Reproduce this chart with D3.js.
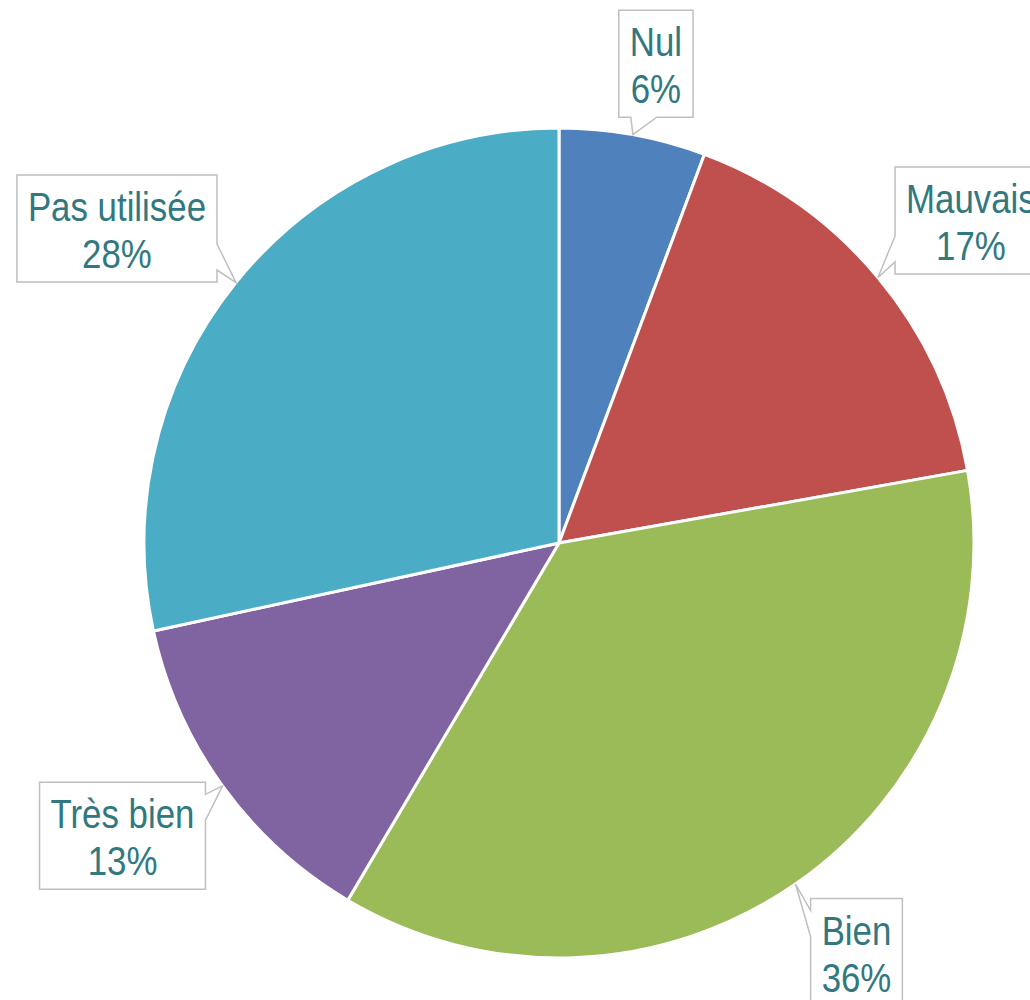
<!DOCTYPE html>
<html>
<head>
<meta charset="utf-8">
<script src="https://cdn.jsdelivr.net/npm/d3@7"></script>
<style>
  html, body { margin: 0; padding: 0; background: #fff; overflow: hidden; }
  svg { display: block; }
</style>
</head>
<body>
<div id="chart"></div>
<script>
// data (share of answers, %)
const categories = ["Nul", "Mauvais", "Bien", "Très bien", "Pas utilisée"];
const shares = [5.7, 16.5, 36.3, 13.1, 28.4];
const colors = ["#4F81BD", "#C0504D", "#9BBB59", "#8064A2", "#4BACC6"];

// callout box offsets from the point on the arc (layout only)
const calloutOffset = [[23, -71], [93, -57], [61, 68], [-100, 50], [-119, -54]];

const width = 1030, height = 1000;
const cx = 559, cy = 543, radius = 415;
const boxH = 107;
const squeeze = 0.85; // narrow font look

const svg = d3.select("#chart")
  .append("svg")
  .attr("width", width)
  .attr("height", height);

const total = d3.sum(shares);
const data = categories.map((c, i) => ({ name: c, value: shares[i], color: colors[i], off: calloutOffset[i] }));

const pie = d3.pie().value(d => d.value).sort(null);
const arc = d3.arc().innerRadius(0).outerRadius(radius);
const arcs = pie(data);

const g = svg.append("g").attr("transform", "translate(" + cx + "," + cy + ")");

g.selectAll("path.slice")
  .data(arcs)
  .enter()
  .append("path")
  .attr("class", "slice")
  .attr("d", arc)
  .attr("fill", d => d.data.color)
  .attr("stroke", "#fff")
  .attr("stroke-width", 3)
  .attr("stroke-linejoin", "round");

// callouts
const labels = g.selectAll("g.callout")
  .data(arcs)
  .enter()
  .append("g")
  .attr("class", "callout");

labels.each(function (d) {
  const sel = d3.select(this);
  const mid = (d.startAngle + d.endAngle) / 2;
  const tip = [radius * Math.sin(mid), -radius * Math.cos(mid)];
  const bx = tip[0] + d.data.off[0], by = tip[1] + d.data.off[1];
  const pct = Math.round(d.data.value / total * 100) + "%";

  const path = sel.append("path");
  const txt = sel.append("text")
    .attr("text-anchor", "middle")
    .attr("transform", "translate(" + bx + ",0) scale(" + squeeze + ",1)")
    .style("font-family", "'Liberation Sans', Arial, sans-serif")
    .style("font-size", "41px")
    .style("fill", "#31787F");
  const top = by - boxH / 2;
  const t1 = txt.append("tspan").attr("x", 0).attr("y", top + 46).text(d.data.name);
  const t2 = txt.append("tspan").attr("x", 0).attr("y", top + 93).text(pct);
  const tw = squeeze * Math.max(t1.node().getComputedTextLength(), t2.node().getComputedTextLength());
  const bw = tw + 22;
  const x0 = bx - bw / 2, x1 = bx + bw / 2, y0 = top, y1 = top + boxH;

  const clamp = (v, a, b) => Math.max(a, Math.min(b, v));
  const m = 25, hw = 13;
  let p;
  if (tip[0] < x0) {
    const c = clamp(tip[1], y0 + m, y1 - m);
    p = [[x0, y0], [x1, y0], [x1, y1], [x0, y1], [x0, c + hw], tip, [x0, c - hw]];
  } else if (tip[0] > x1) {
    const c = clamp(tip[1], y0 + m, y1 - m);
    p = [[x0, y0], [x1, y0], [x1, c - hw], tip, [x1, c + hw], [x1, y1], [x0, y1]];
  } else if (tip[1] > y1) {
    const c = clamp(tip[0], x0 + m, x1 - m);
    p = [[x0, y0], [x1, y0], [x1, y1], [c + hw, y1], tip, [c - hw, y1], [x0, y1]];
  } else {
    const c = clamp(tip[0], x0 + m, x1 - m);
    p = [[x0, y0], [c - hw, y0], tip, [c + hw, y0], [x1, y0], [x1, y1], [x0, y1]];
  }
  path.attr("d", "M" + p.map(q => q.join(",")).join("L") + "Z")
    .attr("fill", "#fff")
    .attr("stroke", "#BFBFBF")
    .attr("stroke-width", 1.5);
});
</script>
</body>
</html>
